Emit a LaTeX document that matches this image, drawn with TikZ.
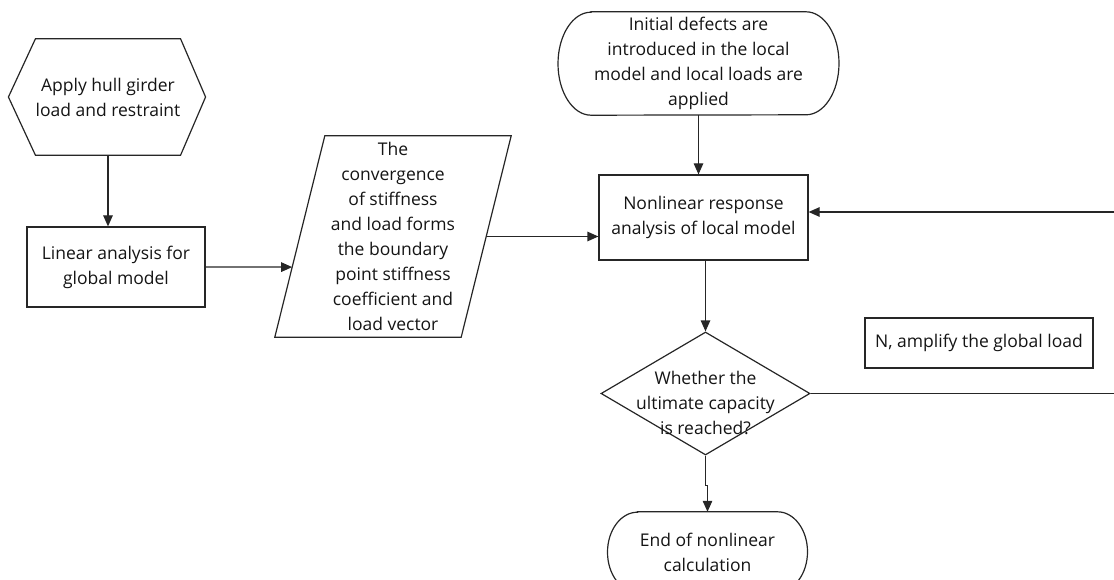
\documentclass[tikz,border=0pt]{standalone}
\usepackage{fontspec}
\setmainfont{Open Sans}
\usetikzlibrary{shapes.geometric,arrows.meta,calc}
\begin{document}
\begin{tikzpicture}[x=1pt,y=-1pt,
  every node/.style={font=\fontsize{17.5}{25}\selectfont, text=black!92, align=center, inner sep=0pt},
  ln/.style={draw=black!85, line width=1.2pt},
  box/.style={rectangle, draw=black!85, line width=1.2pt},
  arr/.style={ln, -{Triangle[length=11pt,width=9.5pt]}}]
\useasboundingbox (0,0) rectangle (1114,580);
\clip (0,0) rectangle (1114,580);

% hexagon
\node[minimum width=142, minimum height=116] (hex) at (108,97) {Apply hull girder\\load and restraint};
\draw[ln] (hex.north west) -- (hex.north east) -- ($(hex.east)+(25,0)$) -- (hex.south east)
  -- (hex.south west) -- ($(hex.west)+(-27,0)$) -- cycle;

% linear analysis
\node[box, minimum width=178, minimum height=80] (lin) at (116,267) {Linear analysis for\\global model};

% parallelogram
\node[minimum width=186, minimum height=201] (para) at (393,236.5)
  {The\\convergence\\of stiffness\\and load forms\\the boundary\\point stiffness\\coefficient and\\load vector};
\coordinate (pTL) at ($(para.north west)+(25,0)$);
\coordinate (pTR) at ($(para.north east)+(25,0)$);
\coordinate (pBR) at ($(para.south east)+(-25,0)$);
\coordinate (pBL) at ($(para.south west)+(-25,0)$);
\draw[ln] (pTL) -- (pTR) -- (pBR) -- (pBL) -- cycle;
\coordinate (pin) at ($(pBL)!0.348!(pTL)$);
\coordinate (pout) at ($(pBR)!0.5!(pTR)$);

% initial terminal
\node[minimum width=215, minimum height=103] (init) at (698.5,63.5)
  {Initial defects are\\introduced in the local\\model and local loads are\\applied};
\draw[ln] ($(init.north)+(-107.5,0)$) -- ($(init.north)+(107.5,0)$)
  arc[start angle=-90, end angle=90, x radius=33, y radius=51.5]
  -- ($(init.south)+(-107.5,0)$)
  arc[start angle=90, end angle=270, x radius=33, y radius=51.5] -- cycle;

% nonlinear box
\node[box, minimum width=209, minimum height=85] (nl) at (703.5,217.5) {Nonlinear response\\analysis of local model};

% decision
\node[diamond, draw=black!85, line width=1.2pt, minimum width=209, minimum height=123] (dec) at (705.5,393.5) {};
\node (dectext) at (705.5,403) {Whether the\\ultimate capacity\\is reached?};

% end terminal
\node[minimum width=140, minimum height=80] (endn) at (707.5,552) {End of nonlinear\\calculation};
\draw[ln] ($(endn.north)+(-70,0)$) -- ($(endn.north)+(70,0)$)
  arc[start angle=-90, end angle=90, x radius=30, y radius=40]
  -- ($(endn.south)+(-70,0)$)
  arc[start angle=90, end angle=270, x radius=30, y radius=40] -- cycle;

% N box
\node[box, minimum width=228, minimum height=50] (nbox) at (979,343) {N, amplify the global load};

% connectors
\draw[arr] (hex.south) -- (hex.south |- lin.north);
\draw[arr] (lin.east) -- (pin);
\draw[arr] (pout) -- (pout -| nl.west);
\draw[arr] (init.south) -- (init.south |- nl.north);
\draw[arr] (dec.north |- nl.south) -- (dec.north);
\draw[arr] (dec.south) -- ++(0,30) -| (endn.north);
\coordinate (rA) at (1122,393.5);
\coordinate (rB) at (1122,212);
\draw[arr] (dec.east) -- (rA) -- (rB) -- (rB -| nl.east);
\end{tikzpicture}
\end{document}
